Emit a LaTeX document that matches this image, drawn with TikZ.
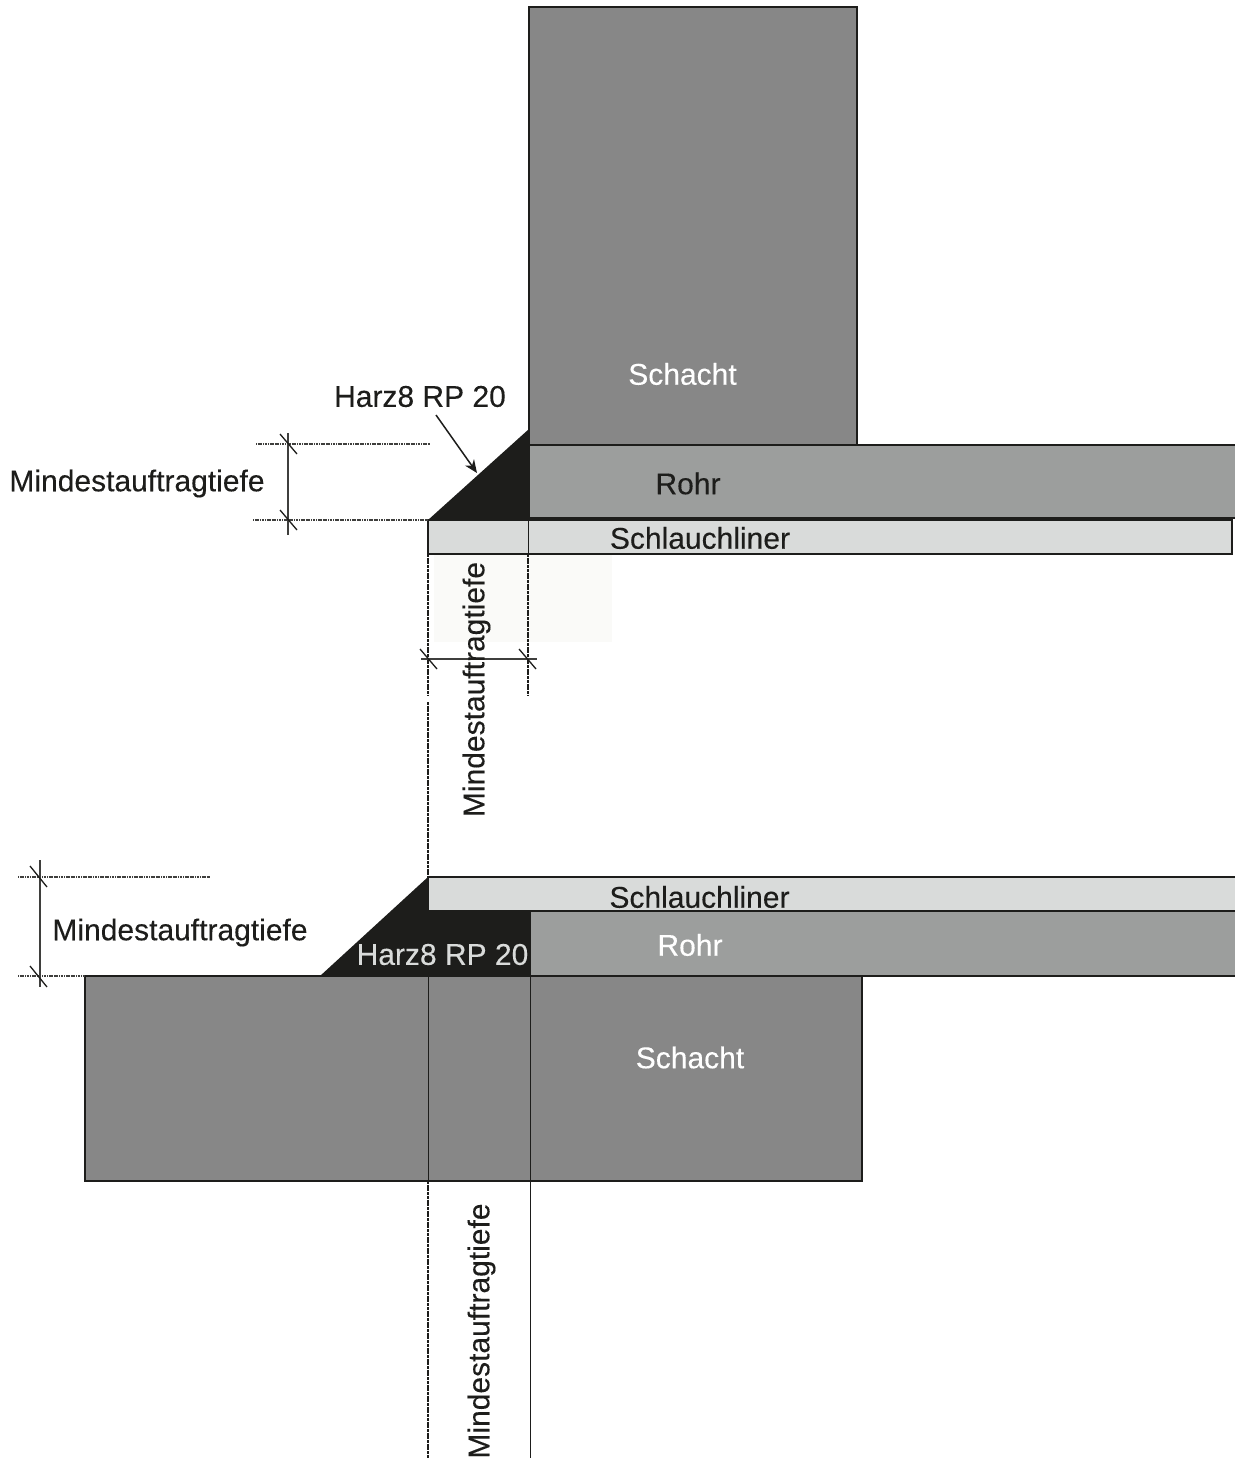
\documentclass[tikz,border=0pt]{standalone}
\usepackage{fontspec}
\setmainfont[FakeBold=0.2]{Liberation Sans}
\usetikzlibrary{arrows.meta}
\definecolor{schacht}{HTML}{878787}
\definecolor{rohr}{HTML}{9C9E9D}
\definecolor{liner}{HTML}{D9DBDA}
\definecolor{harz}{HTML}{1D1D1B}
\definecolor{pale}{HTML}{FAFAF8}
\definecolor{ink}{HTML}{1D1D1B}
\tikzset{
  body/.style={draw=ink,line width=1.4pt},
  guide/.style={draw=ink!85,line width=1.6pt,dash pattern=on 1.2pt off 0.5pt},
  thin guide/.style={draw=ink,line width=1pt},
  broken guide/.style={draw=ink,line width=1.2pt,dash pattern=on 3pt off 0.7pt},
  dimline/.style={draw=ink!85,line width=1.5pt},
  tick/.style={draw=ink,line width=1.3pt},
  lbl/.style={font=\fontsize{30}{34}\selectfont,text=ink,inner sep=0pt},
  wlbl/.style={lbl,text=white},
  plbl/.style={lbl,text=liner}
}
\begin{document}
\begin{tikzpicture}[x=1pt,y=-1pt]
\useasboundingbox (0,0) rectangle (1234,1458);
% upper detail
\fill[pale] (434,555) rectangle (612,642);
\path[body,fill=schacht] (529,7) rectangle (857,445);
\path[body,fill=rohr] (529,445) rectangle (1236,518);
\path[body,fill=liner] (428,520) rectangle (1232,554);
\fill[harz] (428,520) -- (529,429) -- (529,520) -- cycle;
\draw[thin guide] (528,520) -- (528,554);
\draw[broken guide] (528,554) -- (528,695);
\draw[broken guide] (428,554) -- (428,695);
\draw[broken guide] (428,702) -- (428,877);
% upper dimensions
\draw[guide] (256,444) -- (430,444);
\draw[guide] (253,520) -- (428,520);
\coordinate (u1) at (288,433);
\coordinate (u2) at (288,535);
\draw[dimline] (u1) -- (u2);
\draw[tick] (280,434) -- (297,454);
\draw[tick] (280,510) -- (297,530);
\draw[dimline] (421,659) -- (537,659);
\draw[tick] (420,649) -- (437,669);
\draw[tick] (519,649) -- (536,669);
% lower detail
\path[body,fill=schacht] (85,976) rectangle (862,1181);
\path[body,fill=rohr] (530,911) rectangle (1236,976);
\path[body,fill=liner] (428,877) rectangle (1236,911);
\fill[harz] (320,976) -- (428,877) -- (428,911) -- (530,911) -- (530,976) -- cycle;
\draw[thin guide] (428,976) -- (428,1181);
\draw[broken guide] (428,1181) -- (428,1458);
\draw[thin guide] (530,976) -- (530,1458);
% lower dimensions
\draw[guide] (18,877) -- (210,877);
\draw[guide] (18,976) -- (85,976);
\draw[dimline] (40,860) -- (40,987);
\draw[tick] (30,866) -- (47,887);
\draw[tick] (30,966) -- (47,987);
% texts
\node[wlbl] (s1) at (682.5,374) {Schacht};
\node[lbl] (h1) at (420,396.5) {Harz8 RP 20};
\node[lbl] (r1) at (688,483.5) {Rohr};
\node[lbl] (l1) at (700,538) {Schlauchliner};
\node[lbl] (m1) at (137,483.5) {Mindestauftragtiefe};
\node[lbl,rotate=90] (m2) at (476.5,689.5) {Mindestauftragtiefe};
\node[lbl] (l2) at (699.5,897) {Schlauchliner};
\node[wlbl] (r2) at (690,945) {Rohr};
\node[plbl] (h2) at (442.5,954.5) {Harz8 RP 20};
\node[lbl] (m3) at (180,932.5) {Mindestauftragtiefe};
\node[wlbl] (s2) at (690,1057.5) {Schacht};
\node[lbl,rotate=90] (m4) at (481.5,1331) {Mindestauftragtiefe};
% leader
\coordinate (a1) at (477,473);
\draw[-{Stealth[length=13pt,width=11pt]},draw=ink,line width=1.5pt] (436,415) -- (a1);
\end{tikzpicture}
\end{document}
